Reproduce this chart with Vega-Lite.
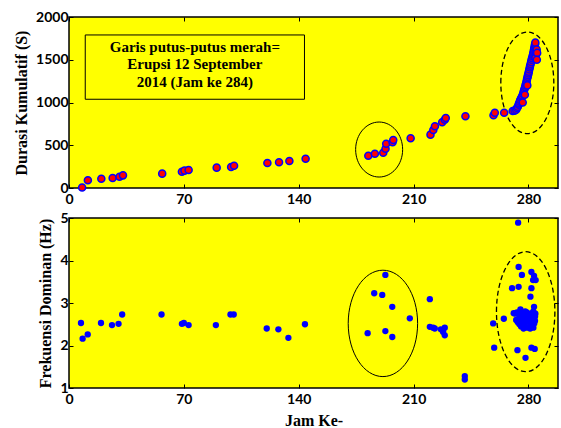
{
  "$schema": "https://vega.github.io/schema/vega-lite/v6.json",
  "background": "white",
  "padding": {"left": 12, "top": 9, "right": 5, "bottom": 5},
  "bounds": "flush",
  "spacing": 30,
  "config": {
    "view": {"fill": "#FFFF00", "stroke": "black", "strokeWidth": 1.5},
    "axis": {
      "labelFont": "Lato", "labelFontWeight": "bold", "labelFontSize": 14, "labelColor": "black",
      "titleFont": "Liberation Serif", "titleFontSize": 16, "titleFontWeight": "bold", "titleColor": "black",
      "domain": false, "grid": false, "tickSize": -4, "tickColor": "black", "tickWidth": 1, "labelPadding": 5
    },
    "axisBottom": {"labelPadding": 8}
  },
  "vconcat": [
    {
      "width": 489, "height": 171,
      "layer": [
        {
          "data": {"values": [{"x1": 9.9, "x2": 143.5, "y1": 1790, "y2": 1038}]},
          "mark": {"type": "rect", "fillOpacity": 0, "stroke": "black", "strokeWidth": 1},
          "encoding": {
            "x": {"field": "x1", "type": "quantitative", "scale": {"domain": [0, 298], "nice": false, "zero": false}, "axis": {"values": [0, 70, 140, 210, 280], "title": null, "labelFlush": false}},
            "x2": {"field": "x2"},
            "y": {"field": "y1", "type": "quantitative", "scale": {"domain": [0, 2000], "nice": false}, "axis": {"values": [0, 500, 1000, 1500, 2000], "title": "Durasi Kumulatif (S)", "titlePadding": 6, "format": "d"}},
            "y2": {"field": "y2"}
          }
        },
        {
          "data": {"values": [
            {"t": "Garis putus-putus merah=", "x": 76.7, "y": 1650},
            {"t": "Erupsi 12 September", "x": 76.7, "y": 1451},
            {"t": "2014 (Jam ke 284)", "x": 76.7, "y": 1240}
          ]},
          "mark": {"type": "text", "font": "Liberation Serif", "fontWeight": "bold", "fontSize": 15, "color": "black", "align": "center", "baseline": "middle"},
          "encoding": {
            "x": {"field": "x", "type": "quantitative", "axis": null},
            "y": {"field": "y", "type": "quantitative", "axis": null},
            "text": {"field": "t"}
          }
        },
        {
          "data": {"values": [{"x": 189, "y": 450}]},
          "mark": {"type": "point", "shape": "M -1 0 A 1 1.17 0 1 1 1 0 A 1 1.17 0 1 1 -1 0", "size": 2209, "filled": false, "stroke": "black", "strokeWidth": 1, "opacity": 1},
          "encoding": {
            "x": {"field": "x", "type": "quantitative", "axis": {"orient": "top", "labels": false, "title": null, "values": [0, 70, 140, 210, 280]}},
            "y": {"field": "y", "type": "quantitative", "axis": {"orient": "right", "labels": false, "title": null, "values": [0, 500, 1000, 1500, 2000]}}
          }
        },
        {
          "data": {"values": [{"x": 279.3, "y": 1230}]},
          "mark": {"type": "point", "shape": "M -1 0 A 1 1.919 0 1 1 1 0 A 1 1.919 0 1 1 -1 0", "size": 2809, "filled": false, "stroke": "black", "strokeWidth": 1.3, "strokeDash": [5, 3], "opacity": 1},
          "encoding": {
            "x": {"field": "x", "type": "quantitative", "axis": null},
            "y": {"field": "y", "type": "quantitative", "axis": null}
          }
        },
        {
          "data": {"values": [
            {"x": 8, "y": 5}, {"x": 11.5, "y": 90}, {"x": 19.7, "y": 109}, {"x": 26.6, "y": 117}, {"x": 30.8, "y": 132}, {"x": 32.9, "y": 148},
            {"x": 56.8, "y": 168}, {"x": 68.8, "y": 191}, {"x": 70.4, "y": 203}, {"x": 72.9, "y": 211}, {"x": 90, "y": 238}, {"x": 98.8, "y": 246},
            {"x": 100.6, "y": 261}, {"x": 120.9, "y": 293}, {"x": 128, "y": 301}, {"x": 134.3, "y": 316}, {"x": 144.2, "y": 343}, {"x": 182.4, "y": 378},
            {"x": 186.4, "y": 401}, {"x": 191.5, "y": 413}, {"x": 192.9, "y": 460}, {"x": 193.3, "y": 518}, {"x": 197.2, "y": 535}, {"x": 197.6, "y": 562},
            {"x": 208.2, "y": 581}, {"x": 220.3, "y": 624}, {"x": 222, "y": 679}, {"x": 223, "y": 722}, {"x": 227.4, "y": 769}, {"x": 229, "y": 799},
            {"x": 229.6, "y": 819}, {"x": 241.6, "y": 839}, {"x": 258.7, "y": 850}, {"x": 259.5, "y": 881}, {"x": 265.2, "y": 881}, {"x": 270.4, "y": 901},
            {"x": 271.5, "y": 905}, {"x": 272.5, "y": 915}, {"x": 273.0, "y": 935}, {"x": 273.5, "y": 950}, {"x": 274.0, "y": 975}, {"x": 274.3, "y": 990},
            {"x": 274.7, "y": 1010}, {"x": 275.0, "y": 1030}, {"x": 275.5, "y": 1050}, {"x": 276.0, "y": 1065}, {"x": 276.3, "y": 1080}, {"x": 276.7, "y": 1100},
            {"x": 277.0, "y": 1120}, {"x": 277.3, "y": 1140}, {"x": 277.6, "y": 1160}, {"x": 278.0, "y": 1180}, {"x": 278.2, "y": 1200}, {"x": 278.5, "y": 1220},
            {"x": 278.8, "y": 1240}, {"x": 279.0, "y": 1260}, {"x": 279.2, "y": 1280}, {"x": 279.5, "y": 1300}, {"x": 279.7, "y": 1320}, {"x": 280.0, "y": 1340},
            {"x": 280.2, "y": 1360}, {"x": 280.5, "y": 1385}, {"x": 280.8, "y": 1410}, {"x": 281.0, "y": 1430}, {"x": 281.3, "y": 1450}, {"x": 281.6, "y": 1475},
            {"x": 281.9, "y": 1500}, {"x": 282.2, "y": 1520}, {"x": 282.5, "y": 1540}, {"x": 282.8, "y": 1560}, {"x": 283.0, "y": 1580}, {"x": 283.2, "y": 1600},
            {"x": 283.4, "y": 1620}, {"x": 283.6, "y": 1640}, {"x": 283.8, "y": 1660}, {"x": 284.0, "y": 1680}, {"x": 284.2, "y": 1700},
            {"x": 284.5, "y": 1560}, {"x": 284.8, "y": 1600}, {"x": 284.3, "y": 1520}, {"x": 285.0, "y": 1620}, {"x": 285.3, "y": 1580}, {"x": 285.1, "y": 1500},
            {"x": 276.5, "y": 1000}, {"x": 277.8, "y": 1090}, {"x": 279.3, "y": 1200}
          ]},
          "mark": {"type": "point", "shape": "circle", "filled": true, "size": 50, "fill": "#FF0000", "stroke": "#0000FF", "strokeWidth": 1.5, "opacity": 1},
          "encoding": {
            "x": {"field": "x", "type": "quantitative", "axis": null},
            "y": {"field": "y", "type": "quantitative", "axis": null}
          }
        },
        {
          "mark": {"type": "rule", "color": "#FF0000", "strokeDash": [4, 3], "strokeWidth": 1.5},
          "encoding": {"x": {"datum": 284, "axis": null}}
        }
      ],
      "resolve": {"axis": {"x": "independent", "y": "independent"}}
    },
    {
      "width": 489, "height": 170,
      "layer": [
        {
          "data": {"values": [
            {"x": 7.3, "y": 2.53}, {"x": 8.3, "y": 2.16}, {"x": 11.4, "y": 2.26}, {"x": 19.5, "y": 2.53}, {"x": 26.2, "y": 2.48}, {"x": 30.2, "y": 2.51},
            {"x": 32.4, "y": 2.73}, {"x": 56.4, "y": 2.73}, {"x": 68.8, "y": 2.51}, {"x": 70, "y": 2.53}, {"x": 72.9, "y": 2.48}, {"x": 89.5, "y": 2.48},
            {"x": 98.4, "y": 2.73}, {"x": 100.4, "y": 2.73}, {"x": 120.5, "y": 2.40}, {"x": 127.6, "y": 2.38}, {"x": 133.7, "y": 2.18}, {"x": 143.8, "y": 2.50},
            {"x": 182, "y": 2.29}, {"x": 186, "y": 3.23}, {"x": 190.9, "y": 3.19}, {"x": 192.8, "y": 3.66}, {"x": 197, "y": 2.91}, {"x": 207.7, "y": 2.64},
            {"x": 192.8, "y": 2.34}, {"x": 197, "y": 2.20}, {"x": 219.9, "y": 3.09}, {"x": 219.9, "y": 2.44}, {"x": 221.9, "y": 2.42}, {"x": 222.9, "y": 2.40},
            {"x": 226.6, "y": 2.38}, {"x": 228, "y": 2.32}, {"x": 229, "y": 2.42}, {"x": 229, "y": 2.24}, {"x": 241.2, "y": 1.28}, {"x": 241.2, "y": 1.20},
            {"x": 258.5, "y": 2.52}, {"x": 259.1, "y": 1.95}, {"x": 265, "y": 2.63}, {"x": 270, "y": 3.35}, {"x": 273.3, "y": 1.89}, {"x": 273.7, "y": 4.89},
            {"x": 274, "y": 3.85}, {"x": 274, "y": 3.38}, {"x": 276, "y": 3.66}, {"x": 278.2, "y": 1.71}, {"x": 281.8, "y": 3.73}, {"x": 283.4, "y": 3.64},
            {"x": 282.8, "y": 3.54}, {"x": 284.4, "y": 3.54}, {"x": 281.8, "y": 3.35}, {"x": 281.2, "y": 3.15}, {"x": 283.4, "y": 2.91}, {"x": 271, "y": 2.76},
            {"x": 275.1, "y": 2.85}, {"x": 281.8, "y": 1.95}, {"x": 283.8, "y": 1.92},
            {"x": 272, "y": 2.75}, {"x": 273, "y": 2.78}, {"x": 274, "y": 2.74}, {"x": 275, "y": 2.72}, {"x": 276, "y": 2.70}, {"x": 277, "y": 2.75},
            {"x": 278, "y": 2.80}, {"x": 279, "y": 2.78}, {"x": 280, "y": 2.72}, {"x": 281, "y": 2.70}, {"x": 282, "y": 2.76}, {"x": 283, "y": 2.80},
            {"x": 284, "y": 2.68}, {"x": 272.5, "y": 2.60}, {"x": 273.5, "y": 2.55}, {"x": 274.5, "y": 2.50}, {"x": 275.5, "y": 2.45}, {"x": 276.5, "y": 2.48},
            {"x": 277.5, "y": 2.52}, {"x": 278.5, "y": 2.56}, {"x": 279.5, "y": 2.60}, {"x": 280.5, "y": 2.55}, {"x": 281.5, "y": 2.48}, {"x": 282.5, "y": 2.44},
            {"x": 283.5, "y": 2.52}, {"x": 284, "y": 2.58}, {"x": 276, "y": 2.62}, {"x": 278, "y": 2.65}, {"x": 280, "y": 2.65}, {"x": 282, "y": 2.62},
            {"x": 274, "y": 2.62}, {"x": 277, "y": 2.40}, {"x": 279, "y": 2.42}, {"x": 281, "y": 2.40}, {"x": 283, "y": 2.42}, {"x": 284.2, "y": 2.75}
          ]},
          "mark": {"type": "point", "shape": "circle", "filled": true, "size": 40, "color": "#0000FF", "opacity": 1},
          "encoding": {
            "x": {"field": "x", "type": "quantitative", "scale": {"domain": [0, 298], "nice": false, "zero": false}, "axis": {"values": [0, 70, 140, 210, 280], "title": "Jam Ke-", "titlePadding": 6, "labelFlush": false}},
            "y": {"field": "y", "type": "quantitative", "scale": {"domain": [1, 5], "nice": false, "zero": false}, "axis": {"values": [1, 2, 3, 4, 5], "title": "Frekuensi Dominan (Hz)", "titlePadding": 6}}
          }
        },
        {
          "data": {"values": [{"x": 191.3, "y": 2.52}]},
          "mark": {"type": "point", "shape": "M -1 0 A 1 1.533 0 1 1 1 0 A 1 1.533 0 1 1 -1 0", "size": 4816, "filled": false, "stroke": "black", "strokeWidth": 1, "opacity": 1},
          "encoding": {
            "x": {"field": "x", "type": "quantitative", "axis": {"orient": "top", "labels": false, "title": null, "values": [0, 70, 140, 210, 280]}},
            "y": {"field": "y", "type": "quantitative", "axis": {"orient": "right", "labels": false, "title": null, "values": [1, 2, 3, 4, 5]}}
          }
        },
        {
          "data": {"values": [{"x": 278.3, "y": 2.795}]},
          "mark": {"type": "point", "shape": "M -1 0 A 1 2.055 0 1 1 1 0 A 1 2.055 0 1 1 -1 0", "size": 3411, "filled": false, "stroke": "black", "strokeWidth": 1.3, "strokeDash": [5, 3], "opacity": 1},
          "encoding": {
            "x": {"field": "x", "type": "quantitative", "axis": null},
            "y": {"field": "y", "type": "quantitative", "axis": null}
          }
        },
        {
          "mark": {"type": "rule", "color": "#FF0000", "strokeDash": [4, 3], "strokeWidth": 1.5, "clip": false},
          "encoding": {"x": {"datum": 284, "axis": null}, "y": {"datum": 1, "axis": null}, "y2": {"datum": 5.71}}
        }
      ],
      "resolve": {"axis": {"x": "independent", "y": "independent"}}
    }
  ]
}
